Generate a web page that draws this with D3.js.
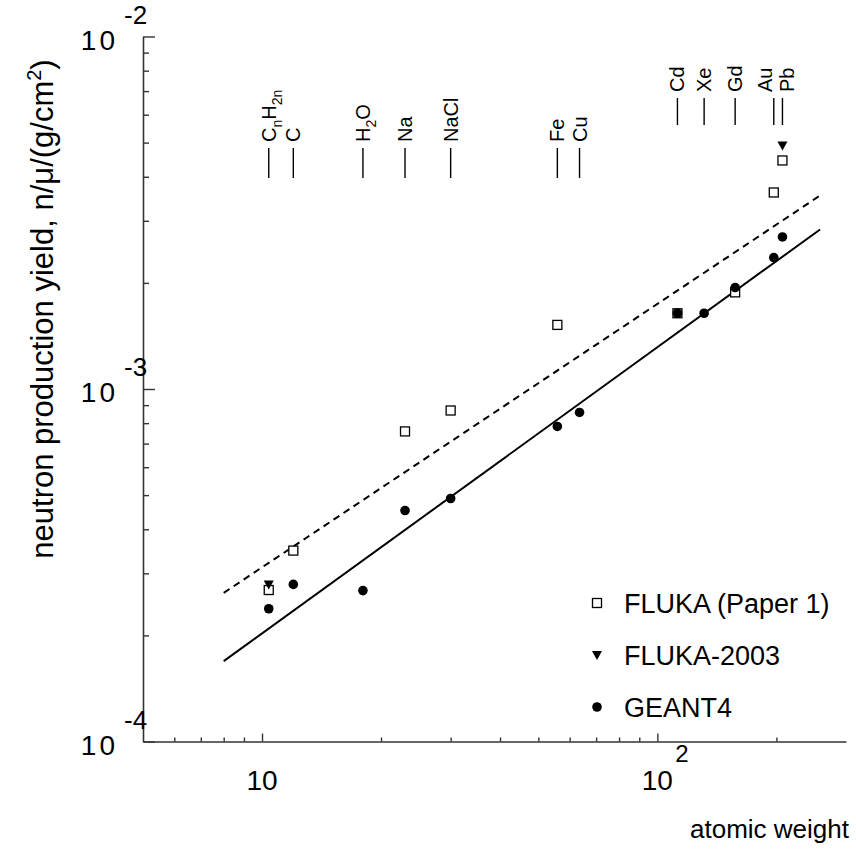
<!DOCTYPE html>
<html><head><meta charset="utf-8">
<script src="https://cdn.jsdelivr.net/npm/d3@7"></script>
<style>
body{margin:0;background:#fff}
svg{display:block}
text{font-family:"Liberation Sans",Arial,Helvetica,sans-serif;fill:#000}
</style></head>
<body><svg id="c" width="856" height="850"></svg>
<script>
// ---------------- data ----------------
const flukaA = [10.4, 12, 23, 30, 55.85, 112.4, 157.3, 197, 207.2];
const flukaY = [2.69e-4, 3.48e-4, 7.58e-4, 8.69e-4, 1.52e-3, 1.64e-3, 1.88e-3, 3.61e-3, 4.45e-3];
const fluka2003A = [10.4, 207.2];
const fluka2003Y = [2.79e-4, 4.91e-3];
const geantA = [10.4, 12, 18, 23, 30, 55.85, 63.55, 112.4, 131.3, 157.3, 197, 207.2];
const geantY = [2.38e-4, 2.79e-4, 2.68e-4, 4.52e-4, 4.89e-4, 7.83e-4, 8.58e-4, 1.64e-3, 1.64e-3, 1.94e-3, 2.36e-3, 2.70e-3];
const solidA = [8, 258];
const solidY = [1.69e-4, 2.835e-3];
const dashedA = [8, 258];
const dashedY = [2.64e-4, 3.54e-3];

const elemLabels = [
  [["C",0],["n",1],["H",0],["2n",1]],
  [["C",0]], [["H",0],["2",1],["O",0]], [["Na",0]], [["NaCl",0]],
  [["Fe",0]], [["Cu",0]], [["Cd",0]], [["Xe",0]], [["Gd",0]], [["Au",0]], [["Pb",0]]
];
const elemA = [10.4, 12, 18, 23, 30, 55.85, 63.55, 112.4, 131.3, 157.3, 197, 207.2];
const elemRow = [0,0,0,0,0,0,0,1,1,1,1,1];
const elemShift = [0,0,0,0,0,0,0,0,0,0,-9,5];

const yMajor = [1e-4, 1e-3, 1e-2];
const yExp = ["-4", "-3", "-2"];
const xMajor = [10, 100];
const xLabelBase = ["10", "10"];
const xLabelExp = ["", "2"];

const legendNames = ["FLUKA (Paper 1)", "FLUKA-2003", "GEANT4"];
const legendShapes = ["square", "triangle", "circle"];

// ---------------- layout ----------------
const svg = d3.select("#c");
const X0 = 143, X1 = 846, Y0 = 741.5, Y1 = 36.5;
const x = d3.scaleLog().domain([5, 300]).range([X0, X1]);
const y = d3.scaleLog().domain([1e-4, 1e-2]).range([Y0, Y1]);

const minorY = [];
for (let e = -4; e < -2; e++) for (let m = 2; m <= 9; m++) minorY.push(m * Math.pow(10, e));
const minorX = [6,7,8,9,20,30,40,50,60,70,80,90,200];

const axCol = "#333";
const gL = svg.append("g").attr("transform", `translate(${X0},0)`);
gL.call(d3.axisLeft(y).tickValues(minorY).tickSizeInner(-6).tickSizeOuter(0).tickFormat(""));
const gL2 = svg.append("g").attr("transform", `translate(${X0},0)`);
gL2.call(d3.axisLeft(y).tickValues(yMajor).tickSizeInner(-12).tickSizeOuter(0).tickFormat(""));
gL2.select(".domain").remove();
const gB = svg.append("g").attr("transform", `translate(0,${Y0})`);
gB.call(d3.axisBottom(x).tickValues(minorX).tickSizeInner(-4).tickSizeOuter(0).tickFormat(""));
const gB2 = svg.append("g").attr("transform", `translate(0,${Y0})`);
gB2.call(d3.axisBottom(x).tickValues(xMajor).tickSizeInner(-8).tickSizeOuter(0).tickFormat(""));
gB2.select(".domain").remove();
svg.selectAll(".domain").attr("stroke", axCol).attr("stroke-width", 1.6);
svg.selectAll(".tick line").attr("stroke", axCol).attr("stroke-width", 1.4);

// y tick labels
yMajor.forEach((v, i) => {
  svg.append("text").attr("x", 118).attr("y", y(v) + 13).attr("text-anchor", "end")
    .attr("font-size", 28).attr("letter-spacing", 3).text("10");
  svg.append("text").attr("x", 124).attr("y", y(v) - 13)
    .attr("font-size", 26).text(yExp[i]);
});
// x tick labels
xMajor.forEach((v, i) => {
  svg.append("text").attr("x", x(v)).attr("y", 790).attr("text-anchor", "middle")
    .attr("font-size", 28).text(xLabelBase[i]);
  if (xLabelExp[i]) svg.append("text").attr("x", x(v) + 18).attr("y", 762)
    .attr("font-size", 24).text(xLabelExp[i]);
});
// axis titles
svg.append("text").attr("x", 849).attr("y", 838).attr("text-anchor", "end")
  .attr("font-size", 26).text("atomic weight");
const yt = svg.append("text").attr("transform", "translate(53,309) rotate(-90)")
  .attr("text-anchor", "middle").attr("font-size", 31);
yt.append("tspan").text("neutron production yield, n/\u03bc/(g/cm");
yt.append("tspan").attr("dy", -12).attr("font-size", 20).text("2");
yt.append("tspan").attr("dy", 12).text(")");

// element labels
elemA.forEach((a, i) => {
  const xx = x(a);
  const top = elemRow[i] === 1 ? 98 : 148;
  const bot = elemRow[i] === 1 ? 125 : 178;
  svg.append("line").attr("x1", xx).attr("x2", xx).attr("y1", top).attr("y2", bot)
    .attr("stroke", "#000").attr("stroke-width", 1.4);
  const t = svg.append("text")
    .attr("transform", `translate(${xx + 7 + elemShift[i]},${top - 6}) rotate(-90)`)
    .attr("font-size", 20);
  let sub = false;
  elemLabels[i].forEach(([s, isSub]) => {
    const ts = t.append("tspan").text(s);
    if (isSub && !sub) { ts.attr("dy", 6).attr("font-size", 14); sub = true; }
    else if (isSub && sub) { ts.attr("font-size", 14); }
    else if (!isSub && sub) { ts.attr("dy", -6); sub = false; }
  });
});

// lines
const line = d3.line().x(d => x(d[0])).y(d => y(d[1]));
svg.append("path").datum(dashedA.map((a, i) => [a, dashedY[i]])).attr("d", line)
  .attr("fill", "none").attr("stroke", "#000").attr("stroke-width", 2).attr("stroke-dasharray", "7,5");
svg.append("path").datum(solidA.map((a, i) => [a, solidY[i]])).attr("d", line)
  .attr("fill", "none").attr("stroke", "#000").attr("stroke-width", 2);

// markers
function marker(g, shape, cx, cy) {
  if (shape === "square") {
    g.append("rect").attr("x", cx - 4.5).attr("y", cy - 4.5).attr("width", 9).attr("height", 9)
      .attr("fill", "#fff").attr("stroke", "#000").attr("stroke-width", 1.3);
  } else if (shape === "triangle") {
    g.append("path").attr("d", `M${cx-5},${cy-4}L${cx+5},${cy-4}L${cx},${cy+5}Z`).attr("fill", "#000");
  } else {
    g.append("circle").attr("cx", cx).attr("cy", cy).attr("r", 4.8).attr("fill", "#000");
  }
}
const gm = svg.append("g");
flukaA.forEach((a, i) => marker(gm, "square", x(a), y(flukaY[i])));
fluka2003A.forEach((a, i) => marker(gm, "triangle", x(a), y(fluka2003Y[i])));
geantA.forEach((a, i) => marker(gm, "circle", x(a), y(geantY[i])));

// legend
legendNames.forEach((n, i) => {
  const cy = 603 + i * 52;
  marker(svg, legendShapes[i], 597, cy);
  svg.append("text").attr("x", 624).attr("y", cy + 9.5).attr("font-size", 27).text(n);
});
</script>
</body></html>
